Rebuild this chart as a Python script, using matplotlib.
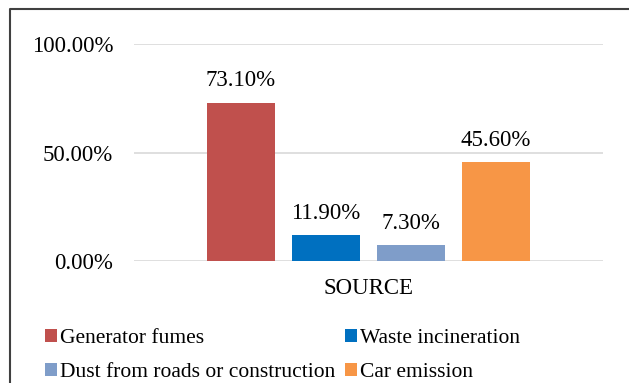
import numpy as np
import matplotlib
matplotlib.use("Agg")
import matplotlib.pyplot as plt
from matplotlib.lines import Line2D
from matplotlib.patches import Patch
from matplotlib import font_manager

# fail loudly if the Times-like face is missing
font_manager.findfont('Liberation Serif', fallback_to_default=False)
plt.rcParams['font.family'] = 'serif'
plt.rcParams['font.serif'] = ['Liberation Serif', 'DejaVu Serif']

# data
sources = ['Generator fumes', 'Waste incineration',
           'Dust from roads or construction', 'Car emission']
shares = [73.10, 11.90, 7.30, 45.60]
colors = ['#C0504D', '#0070C0', '#7F9DC9', '#F79646']
yticks = [0, 50, 100]
category = 'SOURCE'

W, H = 629, 383
fig = plt.figure(figsize=(W / 100, H / 100), dpi=100)
ax = fig.add_axes([134 / W, 1 - 261 / H, (603 - 134) / W, (261 - 44.3) / H])

x = np.arange(len(shares))
ax.bar(x, shares, width=0.8, color=colors, zorder=2)

for xi, v in zip(x, shares):
    ax.annotate(f"{v:.2f}%", (xi, v), xytext=(0, 12), textcoords='offset points',
                ha='center', va='baseline', fontsize=16.5, color='#000000')

ax.set_xlim(-1.26, 4.26)
ax.set_ylim(0, 100)
ax.set_yticks(yticks)
ax.set_yticklabels([f"{t:.2f}%" for t in yticks], fontsize=16.5)
ax.set_xticks([1.5])
ax.set_xticklabels([category], fontsize=16.5)
ax.tick_params(axis='y', length=0, pad=15)
ax.tick_params(axis='x', length=0, pad=12)
ax.grid(axis='y', color='#D9D9D9', linewidth=1.2, zorder=0)
for s in ax.spines.values():
    s.set_visible(False)

# legend is filled column by column, so order gives rows:
# Generator / Waste on top, Dust / Car below
order = [0, 2, 1, 3]
handles = [Patch(facecolor=colors[i], edgecolor='none') for i in order]
fig.legend(handles, [sources[i] for i in order], loc='upper left', ncol=2,
           bbox_to_anchor=(45 / W, 1 - 329 / H), frameon=False,
           fontsize=15.5, handlelength=0.55, handleheight=0.55,
           handletextpad=0.15, columnspacing=0.45, labelspacing=0.68,
           borderpad=0, borderaxespad=0)

# outer frame (left and top edges visible)
fig.add_artist(Line2D([10 / W, 10 / W, 1.0], [0, 1 - 9 / H, 1 - 9 / H],
                      transform=fig.transFigure, color='#404040', linewidth=1.5))

fig.savefig('out.png', dpi=100)
